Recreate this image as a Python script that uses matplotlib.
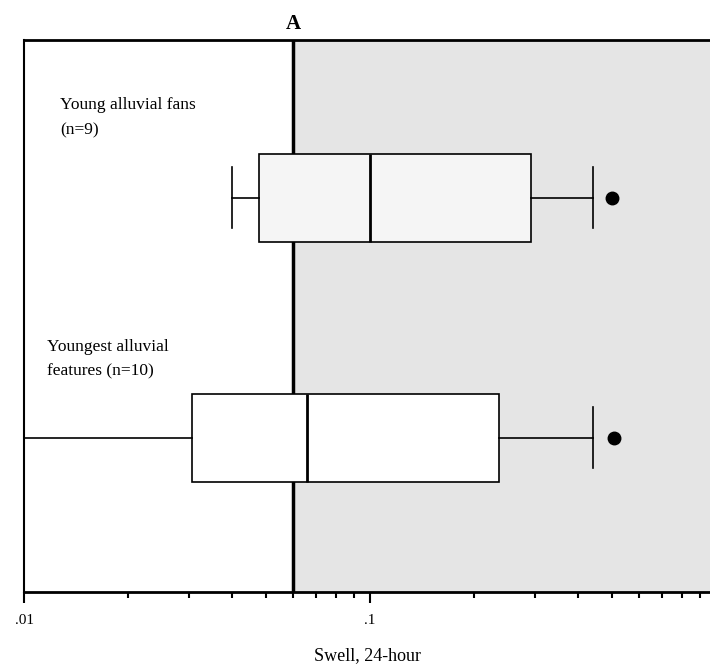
import matplotlib
matplotlib.use('Agg')
import matplotlib.pyplot as plt
from matplotlib.ticker import FixedLocator, NullFormatter

plt.rcParams['font.family'] = ['Liberation Serif', 'DejaVu Serif']

# Box statistics (swell, 24-hour)
groups = ['Youngest alluvial\nfeatures (n=10)', 'Young alluvial fans\n(n=9)']
whislo = [0.008, 0.04]
q1 = [0.0305, 0.0478]
med = [0.0658, 0.1]
q3 = [0.236, 0.292]
whishi = [0.44, 0.442]
fliers = [[0.507], [0.502]]
box_fill = ['white', '#f5f5f5']
threshold = 0.06

stats = []
for i in range(len(groups)):
    stats.append({'whislo': whislo[i], 'q1': q1[i], 'med': med[i], 'q3': q3[i],
                  'whishi': whishi[i], 'fliers': fliers[i], 'label': groups[i]})

fig = plt.figure(figsize=(7.1, 6.71), dpi=100)
ax = fig.add_axes([24 / 710, 1 - 592 / 671, 1 - 24 / 710, (592 - 40) / 671])
ax.set_xscale('log')

ax.axvspan(threshold, 10, color='#e5e5e5', zorder=0, lw=0)
ax.axvline(threshold, color='black', lw=2.5, zorder=1)

bp = ax.bxp(stats, positions=[1, 2], widths=0.37, orientation='horizontal',
            patch_artist=True, showfliers=True,
            boxprops=dict(edgecolor='black', lw=1.2),
            medianprops=dict(color='black', lw=2),
            whiskerprops=dict(color='black', lw=1.2),
            capprops=dict(color='black', lw=1.2),
            capwidths=0.254,
            flierprops=dict(marker='o', markerfacecolor='black',
                            markeredgecolor='black', markersize=9))
for patch, c in zip(bp['boxes'], box_fill):
    patch.set_facecolor(c)
    patch.set_zorder(2)

ax.set_xlim(0.01, 0.961)
ax.set_ylim(0.358, 2.658)
ax.set_yticks([])

ax.xaxis.set_major_locator(FixedLocator([0.01, 0.1]))
ax.set_xticklabels(['.01', '.1'])
minors = [m * 0.01 for m in range(2, 10)] + [m * 0.1 for m in range(2, 10)]
ax.xaxis.set_minor_locator(FixedLocator(minors))
ax.xaxis.set_minor_formatter(NullFormatter())
ax.tick_params(axis='x', which='major', length=8, width=1.5, labelsize=11, pad=8)
ax.tick_params(axis='x', which='minor', length=4, width=1.5)

ax.spines['right'].set_visible(False)
ax.spines['top'].set_linewidth(2)
ax.spines['bottom'].set_linewidth(2)
ax.spines['left'].set_linewidth(1.5)

ax.text(0.0127, 2.42, groups[1], fontsize=12.5, va='top', ha='left', linespacing=1.75)
ax.text(0.01165, 1.413, groups[0], fontsize=12.5, va='top', ha='left', linespacing=1.75)

ax.annotate('A', xy=(threshold, 1.0), xycoords=('data', 'axes fraction'),
            xytext=(0, 4), textcoords='offset points', ha='center', va='bottom',
            fontsize=15, fontweight='bold')

ax.set_xlabel('Swell, 24-hour', fontsize=13, labelpad=14)

fig.savefig('out.png', dpi=100)
